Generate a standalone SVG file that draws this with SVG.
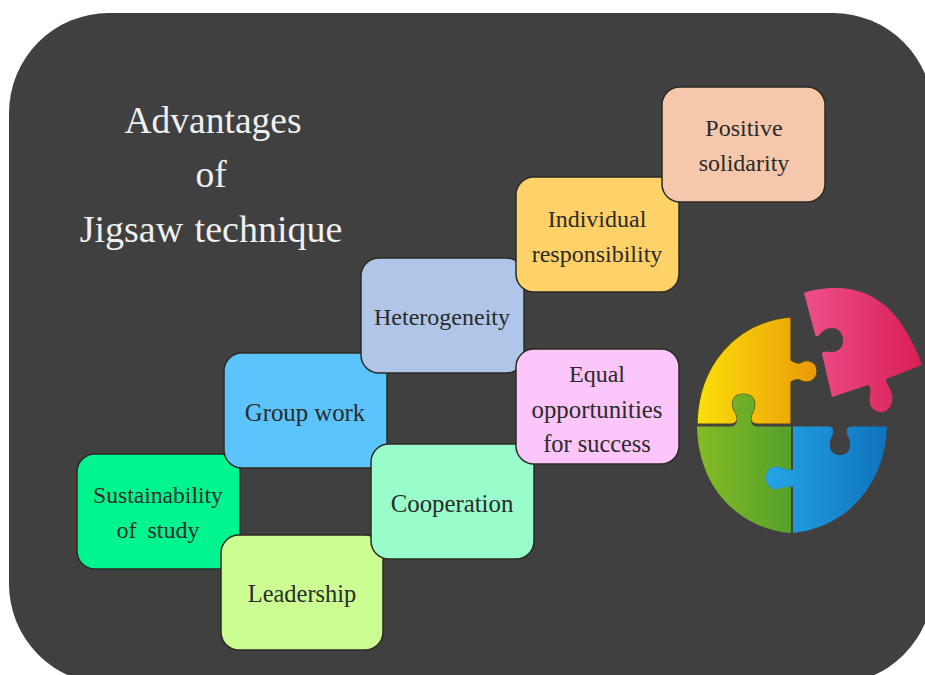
<svg xmlns="http://www.w3.org/2000/svg" width="925" height="675" viewBox="0 0 925 675">
<defs><style>
.b{stroke:#2b2b22;stroke-width:1.5}
text{font-family:"Liberation Serif",serif;fill:#2a2a2a;font-size:24px;text-anchor:middle}
.t{fill:#f0f0f0;font-size:37.5px}
.l{font-size:24.8px}
.s{stroke:#4a4a20;stroke-width:1.2}
</style>
<linearGradient id="y" x1="0" x2="1" y1="0" y2="0"><stop offset="0" stop-color="#fbdf0a"/><stop offset="1" stop-color="#ea9a08"/></linearGradient>
<linearGradient id="g" x1="0" x2="1" y1="0" y2="0"><stop offset="0" stop-color="#84bb24"/><stop offset="1" stop-color="#56a02c"/></linearGradient>
<linearGradient id="bl" x1="0" x2="1" y1="0" y2="0"><stop offset="0" stop-color="#24a6e6"/><stop offset="1" stop-color="#0f72bd"/></linearGradient>
<linearGradient id="p" x1="0" x2="1" y1="0" y2="0"><stop offset="0" stop-color="#ee4f8c"/><stop offset="1" stop-color="#d81f54"/></linearGradient>
</defs>
<rect width="925" height="675" fill="#fff"/>
<rect x="9" y="13" width="924" height="671" rx="100" fill="#404040"/>
<g id="title"><text class="t" x="213" y="133">Advantages</text><text class="t" x="211" y="187">of</text><text class="t" x="211" y="242" word-spacing="2" style="font-size:38px">Jigsaw technique</text></g>
<g id="connectors"></g>
<g id="n1"><rect class="b" x="77" y="454" width="163" height="115" rx="18" fill="#00f58e"/><text x="158" y="503" style="font-size:23.6px">Sustainability</text><text x="158" y="538" word-spacing="5">of study</text></g>
<g id="n2"><rect class="b" x="221" y="535" width="162" height="115" rx="18" fill="#ccfd93"/><text x="302" y="602" style="font-size:24.4px">Leadership</text></g>
<g id="n3"><rect class="b" x="224" y="353" width="163" height="115" rx="18" fill="#5cc4fd"/><text class="l" x="305" y="421">Group work</text></g>
<g id="n4"><rect class="b" x="371" y="444" width="163" height="115" rx="18" fill="#99fdcb"/><text class="l" x="452" y="512">Cooperation</text></g>
<g id="n5"><rect class="b" x="361" y="258" width="163" height="115" rx="18" fill="#b0c6e8"/><text x="442" y="325">Heterogeneity</text></g>
<g id="n6"><rect class="b" x="516" y="349" width="163" height="115" rx="18" fill="#fcc6fb"/><text x="597" y="382">Equal</text><text class="l" x="597" y="418">opportunities</text><text x="597" y="452" style="font-size:24.4px">for success</text></g>
<g id="n7"><rect class="b" x="516" y="177" width="163" height="115" rx="18" fill="#fed268"/><text x="597" y="227">Individual</text><text x="597" y="262">responsibility</text></g>
<g id="n8"><rect class="b" x="662" y="87" width="163" height="115" rx="18" fill="#f6c8ab"/><text x="744" y="136">Positive</text><text x="744" y="171">solidarity</text></g>
<g id="puzzle">
<path class="s" d="M791 317V360C795 363 799 364 802 362C810 358 817 364 817 371C817 379 810 384 802 381C799 379 795 379 791 382V424H757C750 424 750 418 752 414C758 403 754 394 743.500 394C733 394 729 403 736 414C738 418 738 424 731 424H697C698 366 735 322 791 317Z" fill="url(#y)"/>
<path d="M697 426.500H731C738 426 738 418 736 414C729 403 733 394 743.500 394C754 394 758 403 752 414C750 418 750 426 757 426.500H791V470C786 470 783 468 778 467C770 466 766 471 766 478C766 485 771 490 778 489C783 488 786 486 791 487V533C735 528 698 484 697 426.500Z" fill="url(#g)"/>
<path d="M793 426.500H829C834 427 834 432 832 436C827 447 831 455 840 455C849 455 853 447 848 436C846 432 846 427 851 426.500H887C885 484 848 527 793 533V487C786 486 783 488 778 489C771 490 766 485 766 478C766 471 770 466 778 467C783 468 786 470 793 470Z" fill="url(#bl)"/>
<path d="M804 293C818 288 830 288 840 288C862 289 876 298 887 307C903 322 914 343 922 365L886 379C886 384 891 388 892 395C894 405 888 412 881 412C873 412 868 405 870 396C871 391 871 387 868 385L832 397L822 354C822 351 826 352 832 352C839 352 844 346 843 339C842 331 837 328 832 328C826 328 823 331 820 334C818 337 816 337 815 334Z" fill="url(#p)"/>
</g>
</svg>
